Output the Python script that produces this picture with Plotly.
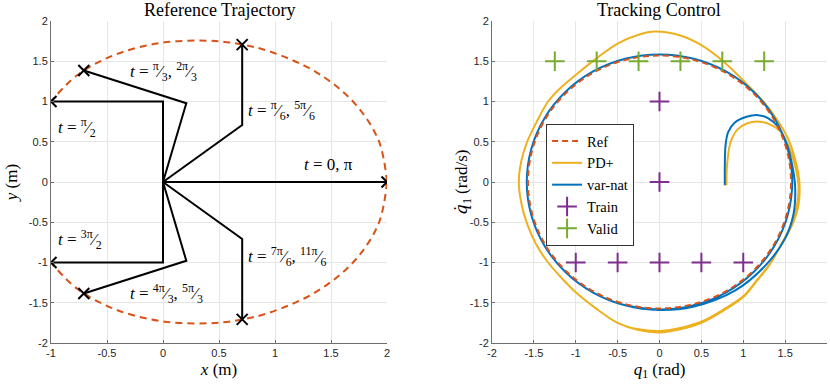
import plotly.graph_objects as go

# ---- left panel: reference trajectory of the 2-link arm ----
# end-effector path (upper half, lower half is its mirror)
path_x = [2.0, 1.925, 1.706, 1.366, 0.94, 0.707, 0.469, 0.0, -0.424, -0.766, -1.0]
path_y_top = [0.0, 0.516, 0.985, 1.366, 1.628, 1.707, 1.751, 1.732, 1.583, 1.327, 1.0]
path_y_bot = [-v for v in path_y_top]

# arm configurations: elbow and tip positions
elbow_x = [1.0, 0.707, 0.208, 0.0, 0.0, 0.208, 0.707]
elbow_y = [0.0, 0.707, 0.978, 1.0, -1.0, -0.978, -0.707]
tip_x = [2.0, 0.707, -0.707, -1.0, -1.0, -0.707, 0.707]
tip_y = [0.0, 1.707, 1.385, 1.0, -1.0, -1.385, -1.707]


def frac(n, d):
    return "<sup>%s</sup>⁄<sub>%s</sub>" % (n, d)


arm_labels = ["<i>t</i> = 0, π",
              "<i>t</i> = %s, %s" % (frac("π", "6"), frac("5π", "6")),
              "<i>t</i> = %s, %s" % (frac("π", "3"), frac("2π", "3")),
              "<i>t</i> = %s" % frac("π", "2"),
              "<i>t</i> = %s" % frac("3π", "2"),
              "<i>t</i> = %s, %s" % (frac("4π", "3"), frac("5π", "3")),
              "<i>t</i> = %s, %s" % (frac("7π", "6"), frac("11π", "6"))]
# label anchor (left edge, centre) in data units
label_x = [1.24, 0.74, -0.31, -0.955, -0.955, -0.31, 0.74]
label_y = [0.22, 0.89, 1.37, 0.68, -0.72, -1.39, -0.92]

# ---- right panel: phase portrait q1 vs dq1 ----
ref_q = [1.571, 1.517, 1.361, 1.111, 0.786, 0.407, 0.0, -0.407, -0.786, -1.111, -1.361, -1.517,
         -1.571, -1.517, -1.361, -1.111, -0.786, -0.407, 0.0, 0.407, 0.786, 1.111, 1.361, 1.517, 1.571]
ref_dq = [0.0, 0.407, 0.786, 1.111, 1.361, 1.517, 1.571, 1.517, 1.361, 1.111, 0.786, 0.407,
          0.0, -0.407, -0.786, -1.111, -1.361, -1.517, -1.571, -1.517, -1.361, -1.111, -0.786, -0.407, 0.0]

# PD+: start segment, then two laps of the orbit
pd_start_q = [0.80, 0.80, 0.81, 0.85, 0.93, 1.05, 1.19, 1.31, 1.45, 1.55, 1.62, 1.66, 1.64]
pd_start_dq = [-0.04, 0.10, 0.25, 0.50, 0.65, 0.73, 0.75, 0.72, 0.62, 0.42, 0.20, -0.05, -0.30]
pd_lap1_q = [1.58, 1.45, 1.32, 1.16, 1.00, 0.76, 0.50, 0.25, 0.00, -0.25, -0.50, -0.76, -1.00,
             -1.18, -1.33, -1.47, -1.58, -1.65, -1.68, -1.65, -1.58, -1.46, -1.33, -1.17, -1.00,
             -0.76, -0.50, -0.25, -0.05, 0.25, 0.50, 0.76, 1.00, 1.24, 1.40, 1.53, 1.62, 1.67, 1.66]
pd_lap1_dq = [-0.52, -0.78, -1.02, -1.23, -1.43, -1.60, -1.75, -1.83, -1.87, -1.84, -1.75, -1.57, -1.37,
              -1.18, -1.00, -0.78, -0.52, -0.26, 0.00, 0.26, 0.50, 0.76, 1.00, 1.18, 1.33,
              1.53, 1.72, 1.83, 1.87, 1.82, 1.70, 1.50, 1.26, 1.00, 0.78, 0.55, 0.28, 0.00, -0.28]
pd_lap2_q = [1.59, 1.46, 1.33, 1.17, 1.01, 0.77, 0.51, 0.26, 0.02, -0.25, -0.50, -0.76, -1.00,
             -1.18, -1.33, -1.47, -1.58, -1.65, -1.68, -1.65, -1.58, -1.46, -1.33, -1.17, -1.00,
             -0.76, -0.50, -0.25, -0.05, 0.25, 0.50, 0.76, 1.00, 1.24, 1.40, 1.53, 1.62, 1.67, 1.66]
pd_lap2_dq = [-0.52, -0.77, -1.00, -1.21, -1.41, -1.58, -1.73, -1.81, -1.85, -1.83, -1.75, -1.57, -1.37,
              -1.18, -1.00, -0.78, -0.52, -0.26, 0.00, 0.26, 0.50, 0.76, 1.00, 1.18, 1.33,
              1.53, 1.72, 1.83, 1.87, 1.82, 1.70, 1.50, 1.26, 1.00, 0.78, 0.55, 0.28, 0.00, -0.28]

vn_q = [0.78, 0.78, 0.79, 0.82, 0.90, 1.04, 1.18, 1.30, 1.42, 1.52, 1.59, 1.62,
        1.60, 1.50, 1.28, 0.90, 0.40, 0.0, -0.410, -0.793, -1.121, -1.373, -1.531,
        -1.585, -1.531, -1.373, -1.121, -0.793, -0.410, 0.0, 0.410, 0.793, 1.121,
        1.373, 1.531, 1.585, 1.531, 1.373, 1.121, 0.793, 0.410, 0.0, -0.410]
vn_dq = [-0.04, 0.20, 0.47, 0.62, 0.74, 0.81, 0.83, 0.79, 0.68, 0.47, 0.18, -0.07,
         -0.40, -0.70, -1.02, -1.35, -1.55, -1.59, -1.531, -1.373, -1.121, -0.793, -0.410,
         0.0, 0.410, 0.793, 1.121, 1.373, 1.531, 1.585, 1.531, 1.373, 1.121,
         0.793, 0.410, 0.0, -0.410, -0.793, -1.121, -1.373, -1.531, -1.585, -1.531]

train_q = [0, 0, -1, -0.5, 0, 0.5, 1]
train_dq = [1, 0, -1, -1, -1, -1, -1]
valid_q = [-1.25, -0.75, -0.25, 0.25, 0.75, 1.25]
valid_dq = [1.5, 1.5, 1.5, 1.5, 1.5, 1.5]

SERIF = "Liberation Serif"
SANS = "Liberation Sans"
ORANGE = "#D95319"
YELLOW = "#EDB120"
BLUE = "#0072BD"
PURPLE = "#7E2F8E"
GREEN = "#77AC30"

fig = go.Figure()

# left panel
for ys in (path_y_top, path_y_bot):
    fig.add_trace(go.Scatter(x=path_x, y=ys, mode="lines", line_shape="spline",
                             line=dict(color=ORANGE, width=2, dash="7px,5px"),
                             showlegend=False, xaxis="x", yaxis="y"))
for ex, ey, tx, ty in zip(elbow_x, elbow_y, tip_x, tip_y):
    fig.add_trace(go.Scatter(x=[0, ex, tx], y=[0, ey, ty], mode="lines",
                             line=dict(color="black", width=2),
                             showlegend=False, xaxis="x", yaxis="y"))
fig.add_trace(go.Scatter(x=tip_x, y=tip_y, mode="markers",
                         marker=dict(symbol="x-thin", size=11, line=dict(color="black", width=2)),
                         showlegend=False, xaxis="x", yaxis="y"))

# right panel
fig.add_trace(go.Scatter(x=pd_start_q + pd_lap1_q + pd_lap2_q,
                         y=pd_start_dq + pd_lap1_dq + pd_lap2_dq,
                         mode="lines", name="PD+", line_shape="spline",
                         line=dict(color=YELLOW, width=2), legendrank=2,
                         xaxis="x2", yaxis="y2"))
fig.add_trace(go.Scatter(x=vn_q, y=vn_dq, mode="lines", name="var-nat", line_shape="spline",
                         line=dict(color=BLUE, width=2), legendrank=3,
                         xaxis="x2", yaxis="y2"))
fig.add_trace(go.Scatter(x=ref_q, y=ref_dq, mode="lines", name="Ref", line_shape="spline",
                         line=dict(color=ORANGE, width=2, dash="6px,4px"), legendrank=1,
                         xaxis="x2", yaxis="y2"))
fig.add_trace(go.Scatter(x=train_q, y=train_dq, mode="markers", name="Train", legendrank=4,
                         marker=dict(symbol="cross-thin", size=14, line=dict(color=PURPLE, width=2)),
                         xaxis="x2", yaxis="y2"))
fig.add_trace(go.Scatter(x=valid_q, y=valid_dq, mode="markers", name="Valid", legendrank=5,
                         marker=dict(symbol="cross-thin", size=14, line=dict(color=GREEN, width=2)),
                         xaxis="x2", yaxis="y2"))

for lx, ly, txt in zip(label_x, label_y, arm_labels):
    fig.add_annotation(x=lx, y=ly, xref="x", yref="y", text=txt, showarrow=False,
                       xanchor="left", yanchor="middle",
                       font=dict(family=SERIF, size=17, color="black"))


def ticks(vals):
    return dict(tickvals=vals, ticktext=[("%g" % v) for v in vals])


axis_common = dict(showgrid=True, gridcolor="#e6e6e6", gridwidth=1, zeroline=False,
                   showline=True, linecolor="#6e6e6e", linewidth=1, ticks="inside",
                   ticklen=3, tickcolor="#6e6e6e", automargin=False,
                   tickfont=dict(family=SANS, size=11, color="#262626"))
half = [-2, -1.5, -1, -0.5, 0, 0.5, 1, 1.5, 2]
title_font = dict(family=SERIF, size=17, color="black")

fig.update_layout(
    width=830, height=385,
    margin=dict(l=51, r=3, t=21, b=42),
    plot_bgcolor="white", paper_bgcolor="white",
    font=dict(family=SERIF, color="black"),
    xaxis=dict(domain=[0, 0.433], range=[-1, 2], **ticks([-1, -0.5, 0, 0.5, 1, 1.5, 2]),
               title=dict(text="<i>x</i> (m)", font=title_font, standoff=4),
               **axis_common),
    yaxis=dict(domain=[0, 1], range=[-2, 2], **ticks(half),
               title=dict(text="<i>y</i> (m)", font=title_font, standoff=6),
               **axis_common),
    xaxis2=dict(domain=[0.5683, 1], range=[-2, 2], anchor="y2", **ticks(half),
                title=dict(text="<i>q</i><sub>1</sub> (rad)", font=title_font, standoff=4),
                **axis_common),
    yaxis2=dict(domain=[0, 1], range=[-2, 2], anchor="x2", **ticks(half), **axis_common),
    legend=dict(x=0.638, y=0.680, xanchor="left", yanchor="top",
                bgcolor="white", bordercolor="#333333", borderwidth=1,
                font=dict(family=SERIF, size=14.5), itemwidth=30, tracegroupgap=0),
    annotations=list(fig.layout.annotations) + [
        dict(text="Reference Trajectory", x=0.2165, y=1.0, xref="paper", yref="paper",
             xanchor="center", yanchor="middle", yshift=11, showarrow=False,
             font=dict(family=SERIF, size=18)),
        dict(text="Tracking Control", x=0.7835, y=1.0, xref="paper", yref="paper",
             xanchor="center", yanchor="middle", yshift=11, showarrow=False,
             font=dict(family=SERIF, size=18)),
        dict(text="<i><span style='font-family:DejaVu Serif'>q̇</span></i><sub>1</sub> (rad/s)",
             x=0.5296, y=0.5, xref="paper", yref="paper", textangle=-90,
             xanchor="center", yanchor="middle", showarrow=False, font=title_font),
    ],
)

# drop the default page margin so the figure sits at the window's top-left corner
fig.write_html("out.html", config={"displayModeBar": False},
               post_script="document.body.style.margin='0';")
